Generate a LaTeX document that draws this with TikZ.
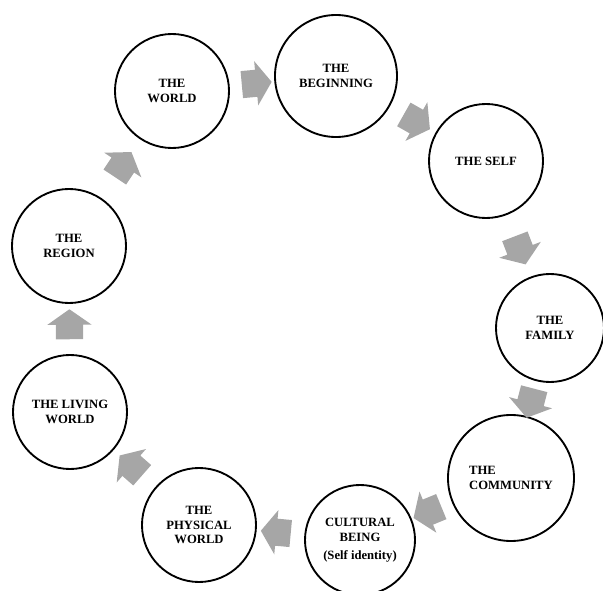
\documentclass[tikz,border=0pt]{standalone}
\usepackage{fontspec}
\setmainfont{Liberation Serif}
\usetikzlibrary{shapes.arrows}
\definecolor{flowgray}{RGB}{166,166,166}
\begin{document}
\begin{tikzpicture}[x=0.03cm, y=-0.03cm,
  stage/.style={circle, draw, line width=1.6pt, inner sep=0pt, align=center,
    font=\fontsize{10.8}{12.6}\selectfont\bfseries},
  flow/.style={single arrow, fill=flowgray, draw=none, sloped, allow upside down,
    minimum height=0.9cm, inner xsep=0pt, inner ysep=0.4cm,
    single arrow head extend=0.26cm, single arrow tip angle=110}]
\useasboundingbox (0,0) rectangle (603,591);
\node[stage, minimum size=3.42cm] (world) at (172, 91) {THE\\WORLD};
\node[stage, minimum size=3.66cm] (begin) at (336, 76) {THE\\BEGINNING};
\node[stage, minimum size=3.42cm] (self) at (486, 161) {THE SELF};
\node[stage, minimum size=3.24cm] (family) at (550, 328) {THE\\FAMILY};
\node[stage, minimum size=3.78cm, align=left] (community) at (511, 478) {THE\\COMMUNITY};
\node[stage, minimum size=3.30cm] (cultural) at (360, 540) {CULTURAL\\BEING\\[3pt](Self identity)};
\node[stage, minimum size=3.42cm] (physical) at (199, 525) {THE\\PHYSICAL\\WORLD};
\node[stage, minimum size=3.42cm] (living) at (70, 412) {THE LIVING\\WORLD};
\node[stage, minimum size=3.42cm] (region) at (69, 246) {THE\\REGION};
\path (world) -- node[flow] {} (begin);
\path (begin) -- node[flow] {} (self);
\path (self) -- node[flow] {} (family);
\path (family) -- node[flow] {} (community);
\path (community) -- node[flow] {} (cultural);
\path (cultural) -- node[flow] {} (physical);
\path (physical) -- node[flow] {} (living);
\path (living) -- node[flow] {} (region);
\path (region) -- node[flow] {} (world);
\end{tikzpicture}
\end{document}
